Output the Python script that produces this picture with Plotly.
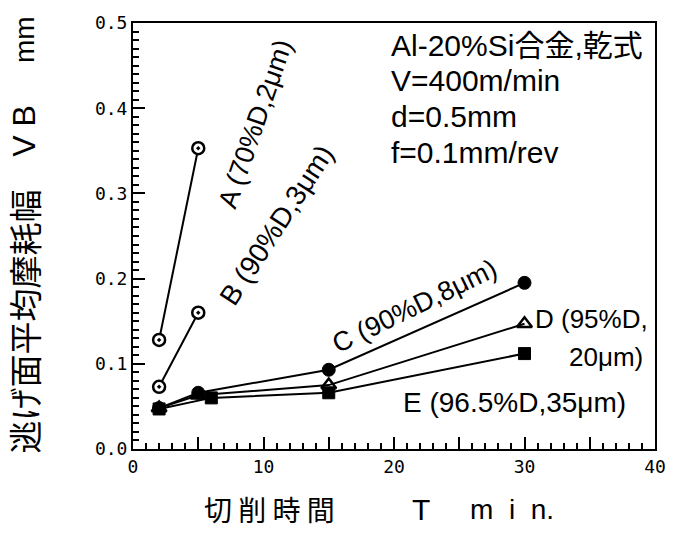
import plotly.graph_objects as go

# Cutting time T (min) and mean flank wear width VB (mm) for each tool grade
time_a = [2, 5]
wear_a = [0.128, 0.353]
time_b = [2, 5]
wear_b = [0.073, 0.160]
time_c = [2, 5, 15, 30]
wear_c = [0.048, 0.066, 0.093, 0.195]
time_d = [2, 5, 15, 30]
wear_d = [0.048, 0.063, 0.075, 0.147]
time_e = [2, 6, 15, 30]
wear_e = [0.047, 0.060, 0.066, 0.112]

x_tickvals = [0, 5, 10, 15, 20, 25, 30, 35, 40]
x_ticktext = ["0", "", "10", "", "20", "", "30", "", "40"]
y_tickvals = [0.0, 0.1, 0.2, 0.3, 0.4, 0.5]
y_ticktext = ["0.0", "0.1", "0.2", "0.3", "0.4", "0.5"]

FONT = "Liberation Sans, Noto Sans CJK JP, sans-serif"
CJK = "Noto Sans CJK JP, sans-serif"
MONO = "DejaVu Sans Mono, monospace"

fig = go.Figure()

series = [
    (time_a, wear_a, dict(symbol="circle-dot", size=12, color="white",
                          line=dict(color="black", width=2.5))),
    (time_b, wear_b, dict(symbol="circle-dot", size=12, color="white",
                          line=dict(color="black", width=2.5))),
    (time_c, wear_c, dict(symbol="circle", size=13, color="black",
                          line=dict(color="black", width=1))),
    (time_d, wear_d, dict(symbol="triangle-up-open", size=13, color="black",
                          line=dict(color="black", width=2.5))),
    (time_e, wear_e, dict(symbol="square", size=12, color="black",
                          line=dict(color="black", width=1))),
]
for xs, ys, mk in series:
    fig.add_trace(go.Scatter(
        x=xs, y=ys, mode="lines+markers",
        line=dict(color="black", width=2),
        marker=mk, showlegend=False, cliponaxis=False,
    ))

# Grade labels written along their curves
labels = [
    dict(x=9.4, y=0.381, text="A (70%D,2μm)", angle=-71, size=27),
    dict(x=11.0, y=0.262, text="B (90%D,3μm)", angle=-57, size=28),
    dict(x=21.6, y=0.168, text="C (90%D,8μm)", angle=-26, size=27),
    dict(x=29.2, y=0.054, text="E (96.5%D,35μm)", angle=0, size=28),
]
for a in labels:
    fig.add_annotation(x=a["x"], y=a["y"], text=a["text"], textangle=a["angle"],
                       showarrow=False, font=dict(family=FONT, size=a["size"], color="black"))

# Grade D label sits on two right-aligned lines
fig.add_annotation(x=39.6, y=0.153, text="D (95%D,", xanchor="right", showarrow=False,
                   font=dict(family=FONT, size=26, color="black"))
fig.add_annotation(x=39.2, y=0.108, text="20μm)", xanchor="right", showarrow=False,
                   font=dict(family=FONT, size=26, color="black"))

# Cutting conditions
conditions = ["Al-20%Si合金,乾式", "V=400m/min", "d=0.5mm", "f=0.1mm/rev"]
cond_y = [0.474, 0.433, 0.390, 0.348]
for txt, yy in zip(conditions, cond_y):
    fig.add_annotation(x=19.6, y=yy, text=txt, xanchor="left", showarrow=False,
                       font=dict(family=FONT, size=30, color="black"))

# Y axis title, written bottom to top
y_title = [("逃げ面平均摩耗幅", 0.299, 33, CJK), ("V B", 0.747, 32, FONT), ("mm", 0.962, 28, FONT)]
for txt, yy, sz, fam in y_title:
    fig.add_annotation(xref="paper", yref="paper", x=-0.209, y=yy, xanchor="center",
                       yanchor="middle", textangle=-90, text=txt, showarrow=False,
                       font=dict(family=fam, size=sz, color="black"))

# X axis title
x_title = [("切 削 時 間", 0.261, 28, CJK), ("T", 0.551, 30, FONT), ("m  i  n.", 0.727, 28, FONT)]
for txt, xx, sz, fam in x_title:
    fig.add_annotation(xref="paper", yref="paper", x=xx, y=-0.142, xanchor="center",
                       yanchor="middle", text=txt, showarrow=False,
                       font=dict(family=fam, size=sz, color="black"))

fig.update_xaxes(
    range=[0, 40], showgrid=False, zeroline=False,
    showline=True, linecolor="black", linewidth=2, mirror=True,
    ticks="inside", ticklen=12, tickwidth=1.5, tickcolor="black",
    tickvals=x_tickvals, ticktext=x_ticktext,
    minor=dict(dtick=1, ticks="inside", ticklen=6, tickwidth=1.5, tickcolor="black"),
    tickfont=dict(family=MONO, size=18, color="black"),
)
fig.update_yaxes(
    range=[0, 0.5], showgrid=False, zeroline=False,
    showline=True, linecolor="black", linewidth=2, mirror=True,
    ticks="inside", ticklen=12, tickwidth=1.5, tickcolor="black",
    tickvals=y_tickvals, ticktext=y_ticktext,
    minor=dict(dtick=0.01, ticks="inside", ticklen=6, tickwidth=1.5, tickcolor="black"),
    tickfont=dict(family=MONO, size=18, color="black"),
)

fig.update_layout(
    width=678, height=533,
    margin=dict(l=133, r=13, t=18, b=84),
    paper_bgcolor="white", plot_bgcolor="white",
)

fig.write_html("out.html")
